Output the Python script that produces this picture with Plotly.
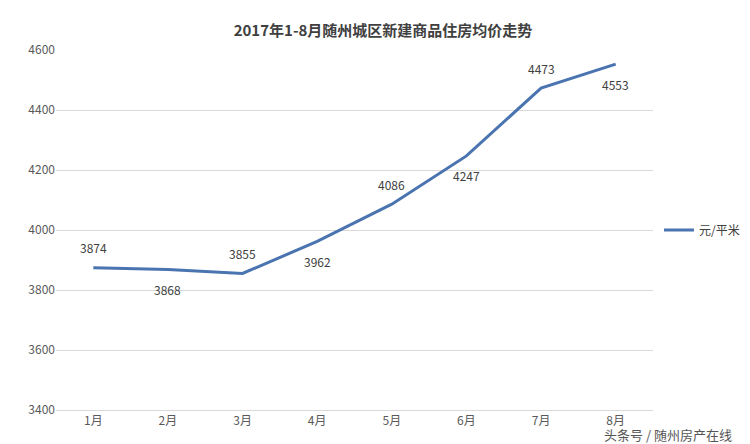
import plotly.graph_objects as go

months = ["1月","2月","3月","4月","5月","6月","7月","8月"]
prices = [3874, 3868, 3855, 3962, 4086, 4247, 4473, 4553]
shifts = [20, -20, 20, -20, 20, -20, 20, -20]

fig = go.Figure()
fig.add_trace(go.Scatter(x=months, y=prices, mode="lines", name="元/平米",
    line=dict(color="#4a74b0", width=3)))
for m, p, s in zip(months, prices, shifts):
    fig.add_annotation(x=m, y=p, text=str(p), showarrow=False, yshift=s,
                       font=dict(size=12, color="#404040"))
fig.update_layout(
    width=750, height=444, margin=dict(l=48, r=105, t=42, b=42, autoexpand=False),
    paper_bgcolor="white", plot_bgcolor="white",
    title=dict(text="<b>2017年1-8月随州城区新建商品住房均价走势</b>", x=0.5, xanchor="center", y=0.96,
               font=dict(size=15, color="#404040", family="Noto Sans CJK SC")),
    font=dict(family="Noto Sans CJK SC", color="#595959", size=12),
    legend=dict(x=1.01, y=0.5, yanchor="middle", font=dict(size=12, color="#404040")),
    showlegend=True,
)
fig.update_xaxes(type="category", range=[-0.5, 7.5], showgrid=False, showline=True, linecolor="#d9d9d9", ticks="")
fig.update_yaxes(range=[3400, 4600], dtick=200, showgrid=True, gridcolor="#d9d9d9", zeroline=False, ticks="")
fig.add_annotation(text="头条号 / 随州房产在线", xref="paper", yref="paper", x=1.135, y=-0.1,
    showarrow=False, xanchor="right", yanchor="bottom", font=dict(size=13, color="#555"))
fig.write_html("out.html")
